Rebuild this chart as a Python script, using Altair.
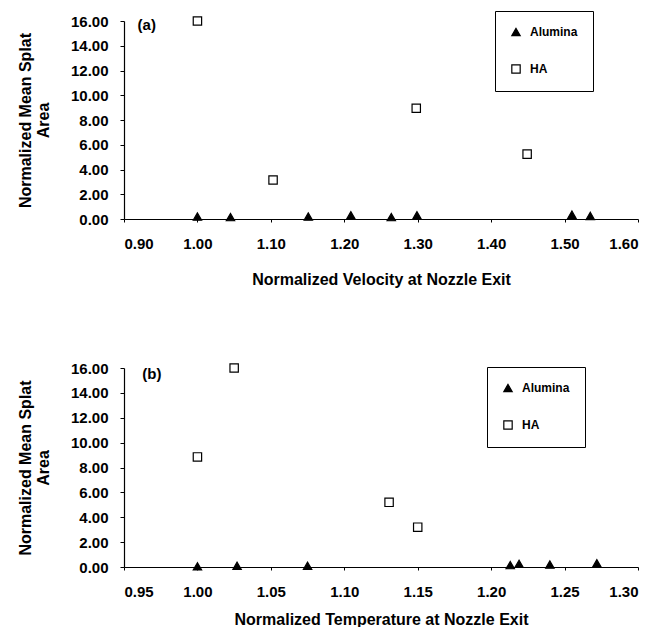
import altair as alt
import pandas as pd

FONT = "Liberation Sans"

# Panel (a): velocity
a_alumina_x = [1.00, 1.045, 1.151, 1.209, 1.264, 1.299, 1.510, 1.535]
a_alumina_y = [0.20, 0.15, 0.20, 0.30, 0.15, 0.30, 0.35, 0.25]
a_ha_x = [1.00, 1.103, 1.298, 1.449]
a_ha_y = [16.0, 3.15, 8.95, 5.24]

# Panel (b): temperature
b_alumina_x = [1.00, 1.027, 1.075, 1.213, 1.219, 1.240, 1.272]
b_alumina_y = [0.05, 0.10, 0.10, 0.15, 0.25, 0.20, 0.30]
b_ha_x = [1.00, 1.025, 1.1305, 1.15]
b_ha_y = [8.85, 16.0, 5.2, 3.2]

materials = ["Alumina", "HA"]
y_ticks = [0, 2, 4, 6, 8, 10, 12, 14, 16]
a_x_ticks = [0.9, 1.0, 1.1, 1.2, 1.3, 1.4, 1.5, 1.6]
b_x_ticks = [0.95, 1.0, 1.05, 1.1, 1.15, 1.2, 1.25, 1.3]


def make_df(ax, ay, hx, hy):
    return pd.DataFrame({
        "x": ax + hx,
        "y": ay + hy,
        "Material": ["Alumina"] * len(ax) + ["HA"] * len(hx),
    })


def panel(df, xdom, xticks, xtitle, tag, tag_x, tag_y, legx, legy, xtp, w, h):
    legend = alt.Legend(
        title=None, orient="none", legendX=legx, legendY=legy,
        strokeColor="black", fillColor="white", padding=15,
        rowPadding=23, labelFont=FONT, labelFontSize=12,
        labelFontWeight="bold", labelColor="black", labelOffset=8,
        symbolSize=70, symbolStrokeWidth=1.2,
    )
    xscale = alt.Scale(domain=xdom, nice=False, zero=False)
    yscale = alt.Scale(domain=[0, 16], nice=False)
    xaxis = alt.Axis(values=xticks, format=".2f", title=xtitle,
                     titlePadding=xtp, labelOverlap=False)
    yaxis = alt.Axis(values=y_ticks, format=".2f",
                     title=["Normalized Mean Splat", "Area"],
                     titleLineHeight=18, titlePadding=19,
                     labelOverlap=False, labelBound=False)
    pts = alt.Chart(df).mark_point(filled=True, size=70,
                                   strokeWidth=1.2, opacity=1).encode(
        x=alt.X("x:Q", scale=xscale, axis=xaxis),
        y=alt.Y("y:Q", scale=yscale, axis=yaxis),
        shape=alt.Shape("Material:N",
                        scale=alt.Scale(domain=materials, range=["triangle-up", "square"]),
                        legend=legend),
        fill=alt.Fill("Material:N",
                      scale=alt.Scale(domain=materials, range=["black", "white"]),
                      legend=legend),
        stroke=alt.Stroke("Material:N",
                          scale=alt.Scale(domain=materials, range=["black", "black"]),
                          legend=legend),
    )
    lab = alt.Chart(pd.DataFrame({"x": [tag_x], "y": [tag_y], "t": [tag]})).mark_text(
        font=FONT, fontSize=15, fontWeight="bold", color="black"
    ).encode(x=alt.X("x:Q", scale=xscale, axis=xaxis),
             y=alt.Y("y:Q", scale=yscale, axis=yaxis), text="t:N")
    return alt.layer(pts, lab).properties(width=w, height=h)


top = panel(make_df(a_alumina_x, a_alumina_y, a_ha_x, a_ha_y), [0.9, 1.6], a_x_ticks,
            "Normalized Velocity at Nozzle Exit", "(a)", 0.931, 15.7, 371, -10, 20, 514, 198)
bottom = panel(make_df(b_alumina_x, b_alumina_y, b_ha_x, b_ha_y), [0.95, 1.3], b_x_ticks,
               "Normalized Temperature at Nozzle Exit", "(b)", 0.969, 15.5, 363, -1, 12, 514, 199)

chart = alt.vconcat(top, bottom, spacing=74).resolve_scale(
    shape="independent", fill="independent", stroke="independent"
).resolve_legend(
    shape="independent", fill="independent", stroke="independent"
).properties(
    padding={"left": 9, "top": 2, "right": 5, "bottom": 0}
).configure_view(
    stroke=None
).configure_axis(
    grid=False, domainColor="black", tickColor="black", labelColor="black",
    titleColor="black", labelFont=FONT, titleFont=FONT, labelFontSize=15,
    labelFontWeight="bold", titleFontSize=16, titleFontWeight="bold",
    tickSize=4, labelPadding=12, domainWidth=1.2, labelOverlap=False
).configure_axisX(labelPadding=14, tickSize=3)

chart.save("out.html", embed_options={"renderer": "svg", "actions": False})
